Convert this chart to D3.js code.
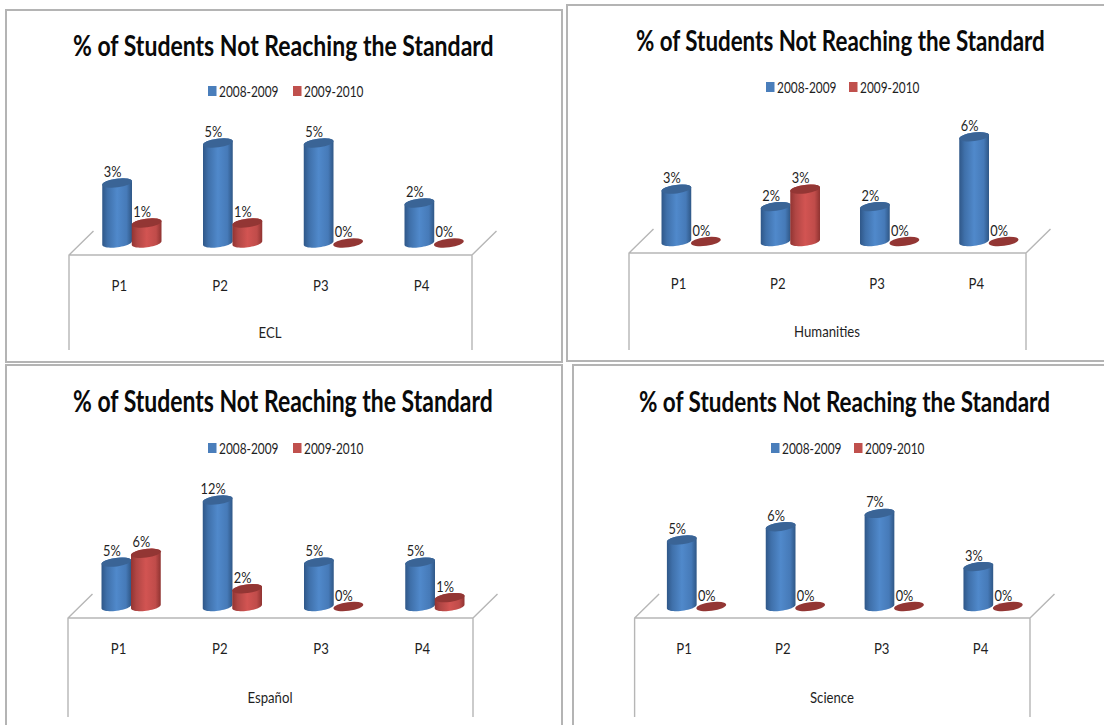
<!DOCTYPE html>
<html>
<head>
<meta charset="utf-8">
<script src="https://cdn.jsdelivr.net/npm/d3@7/dist/d3.min.js"></script>
<style>
  html, body { margin: 0; padding: 0; background: #fff; overflow: hidden; }
  svg { display: block; }
  text { font-family: Lato, "Open Sans", sans-serif; fill: #1f1f1f; }
</style>
</head>
<body>
<svg id="chart" width="1104" height="725"></svg>
<script>
// Chart content
const chartTitle = "% of Students Not Reaching the Standard";
const periods = ["P1", "P2", "P3", "P4"];
const schoolYears = ["2008-2009", "2009-2010"];
const subjects = ["ECL", "Humanities", "Español", "Science"];

const eclValues2008 = [3, 5, 5, 2];
const eclValues2009 = [1, 1, 0, 0];
const humanitiesValues2008 = [3, 2, 2, 6];
const humanitiesValues2009 = [0, 3, 0, 0];
const espanolValues2008 = [5, 12, 5, 5];
const espanolValues2009 = [6, 2, 0, 1];
const scienceValues2008 = [5, 6, 7, 3];
const scienceValues2009 = [0, 0, 0, 0];

const subjectValues = [
  [eclValues2008, eclValues2009],
  [humanitiesValues2008, humanitiesValues2009],
  [espanolValues2008, espanolValues2009],
  [scienceValues2008, scienceValues2009]
];

// Placement of each of the four panels on the sheet
const panelLayouts = [
  { frame: [6, 10, 556, 352], titleX: [73, 494], titleY: 56, legendX: [208, 293], legendY: 91.5,
    floorX: [69, 472], floorY: 255, backY: 231, baseY: 243, perPercent: 20, axisY: 285, subjectX: 270, subjectY: 333, wallEnd: 350 },
  { frame: [567, 5, 545, 356], titleX: [636, 1045], titleY: 51, legendX: [766, 849], legendY: 87.5,
    floorX: [629, 1026], floorY: 253, backY: 229, baseY: 241.5, perPercent: 17.45, axisY: 283, subjectX: 827, subjectY: 332, wallEnd: 350 },
  { frame: [6, 365, 556, 370], titleX: [73, 493], titleY: 411.5, legendX: [208, 293], legendY: 448.5,
    floorX: [68, 473], floorY: 618, backY: 594, baseY: 606.5, perPercent: 8.87, axisY: 648, subjectX: 270, subjectY: 698, wallEnd: 717 },
  { frame: [573, 365, 540, 370], titleX: [639, 1050], titleY: 411.5, legendX: [771, 854], legendY: 448.5,
    floorX: [634.6, 1030], floorY: 618, backY: 594, baseY: 606.5, perPercent: 13.3, axisY: 648, subjectX: 832, subjectY: 698, wallEnd: 717 }
];

const svg = d3.select("#chart");
const defs = svg.append("defs");

// Shaded cylinder bodies: dark edges with a lighter band through the middle
const seriesStyles = [
  { id: "bodyBlue", swatch: "#4a7ebb", cap: "#3a6496", stops: ["#2f5788", "#3f70aa", "#5089cb", "#467ab8", "#2f5786"] },
  { id: "bodyRed", swatch: "#c0504d", cap: "#933634", stops: ["#923432", "#b04644", "#d25452", "#c04c4a", "#8f3331"] }
];
seriesStyles.forEach(s => {
  const grad = defs.append("linearGradient").attr("id", s.id).attr("x1", 0).attr("x2", 1).attr("y1", 0).attr("y2", 0);
  [0, 0.18, 0.5, 0.82, 1].forEach((o, i) => grad.append("stop").attr("offset", o).attr("stop-color", s.stops[i]));
});

// Squeeze text horizontally about its anchor; the face runs wider than the chart's lettering
function squeeze(sel, ratio) {
  sel.each(function () {
    const t = d3.select(this);
    const px = +t.attr("x") || 0, py = +t.attr("y") || 0;
    t.attr("x", 0).attr("y", null)
     .attr("transform", `translate(${px},${py}) scale(${ratio},1)`);
  });
  return sel;
}

// Same squeeze, sized so the text spans an exact width
function fitWidth(sel, width) {
  sel.each(function () {
    squeeze(d3.select(this), width / this.getComputedTextLength());
  });
  return sel;
}

// Elliptical end of a cylinder, tilted so its right side sits higher
const capRadius = 15, capMinor = 4.3, capAngle = -7.5;
const capRad = capAngle * Math.PI / 180;
const capSteps = d3.range(0, 25).map(i => i / 24 * Math.PI);

// Point on the tilted ellipse around (cx, cy); t runs from the left end (0) round to the right end (PI)
function capPoint(cx, cy, t, lower) {
  const ex = -capRadius * Math.cos(t);
  const ey = (lower ? 1 : -1) * capMinor * Math.sin(t);
  return [cx + ex * Math.cos(capRad) - ey * Math.sin(capRad),
          cy + ex * Math.sin(capRad) + ey * Math.cos(capRad)];
}

const outline = d3.line();

function cylinderBody(cx, topY, baseY) {
  const front = capSteps.map(t => capPoint(cx, baseY, t, true));
  const back = capSteps.map(t => capPoint(cx, topY, t, false)).reverse();
  return outline(front.concat(back)) + "Z";
}

// Frames go first so neighbouring panels never paint over a border
panelLayouts.forEach(p => {
  svg.append("rect")
    .attr("x", p.frame[0]).attr("y", p.frame[1])
    .attr("width", p.frame[2]).attr("height", p.frame[3])
    .attr("fill", "#fff").attr("stroke", "#b4b4b4").attr("stroke-width", 2);
});

panelLayouts.forEach((p, idx) => {
  const g = svg.append("g");
  const values = subjectValues[idx];

  // Heading
  g.append("text")
    .attr("x", p.titleX[0]).attr("y", p.titleY)
    .style("font-size", "29.5px").style("font-weight", 700).style("fill", "#0a0a0a")
    .text(chartTitle)
    .call(fitWidth, p.titleX[1] - p.titleX[0]);

  // Legend
  schoolYears.forEach((year, i) => {
    g.append("rect")
      .attr("x", p.legendX[i]).attr("y", p.legendY - 5.5)
      .attr("width", 8.5).attr("height", 10).attr("fill", seriesStyles[i].swatch);
    g.append("text")
      .attr("x", p.legendX[i] + 11).attr("y", p.legendY + 5)
      .style("font-size", "15.5px").text(year)
      .call(fitWidth, 59.5);
  });

  // Scales
  const x = d3.scaleBand().domain(periods).range(p.floorX);
  const series = d3.scaleBand().domain(schoolYears).range([-29.5, 29.5]);
  const maxValue = d3.max(values.flat());
  const y = d3.scaleLinear().domain([0, maxValue]).range([p.baseY, p.baseY - p.perPercent * maxValue]);
  const depthShift = 12.5;

  // Floor and side walls of the 3D box
  const [fl, fr] = p.floorX;
  g.append("path")
    .attr("fill", "none").attr("stroke", "#b6b6b6").attr("stroke-width", 1.4)
    .attr("d", `M${fl + 24.5},${p.backY}L${fl},${p.floorY}L${fl},${p.wallEnd}` +
               `M${fl},${p.floorY}L${fr},${p.floorY}L${fr},${p.wallEnd}` +
               `M${fr},${p.floorY}L${fr + 24.5},${p.backY}`);

  // Cylinders and value labels
  schoolYears.forEach((year, s) => {
    const style = seriesStyles[s];
    const rows = periods.map((period, i) => ({ period, value: values[s][i] }));
    const cx = d => x(d.period) + x.bandwidth() / 2 + depthShift + series(year) + series.bandwidth() / 2;

    g.append("g").selectAll("path").data(rows.filter(d => d.value > 0)).join("path")
      .attr("d", d => cylinderBody(cx(d), y(d.value), y(0)))
      .attr("fill", `url(#${style.id})`);

    g.append("g").selectAll("ellipse").data(rows).join("ellipse")
      .attr("rx", capRadius)
      .attr("ry", capMinor)
      .attr("transform", d => `translate(${cx(d)},${y(d.value)}) rotate(${capAngle})`)
      .attr("fill", style.cap);

    g.append("g").selectAll("text").data(rows).join("text")
      .attr("x", d => cx(d) - 4.5)
      .attr("y", d => y(d.value) - 6)
      .attr("text-anchor", "middle")
      .style("font-size", "16px")
      .text(d => `${d.value}%`)
      .call(squeeze, 0.8);
  });

  // Period labels along the front of the box
  const axis = g.append("g")
    .attr("transform", `translate(0,${p.axisY - 10})`)
    .call(d3.axisBottom(x).tickSize(0).tickPadding(5));
  axis.select(".domain").remove();
  axis.selectAll("text")
    .style("font-family", 'Lato, "Open Sans", sans-serif')
    .style("font-size", "15.5px")
    .style("fill", "#1f1f1f")
    .attr("transform", "scale(0.85,1)");

  // Subject name
  g.append("text")
    .attr("x", p.subjectX).attr("y", p.subjectY + 5)
    .attr("text-anchor", "middle")
    .style("font-size", "15.5px")
    .text(subjects[idx])
    .call(squeeze, 0.85);
});
</script>
</body>
</html>
